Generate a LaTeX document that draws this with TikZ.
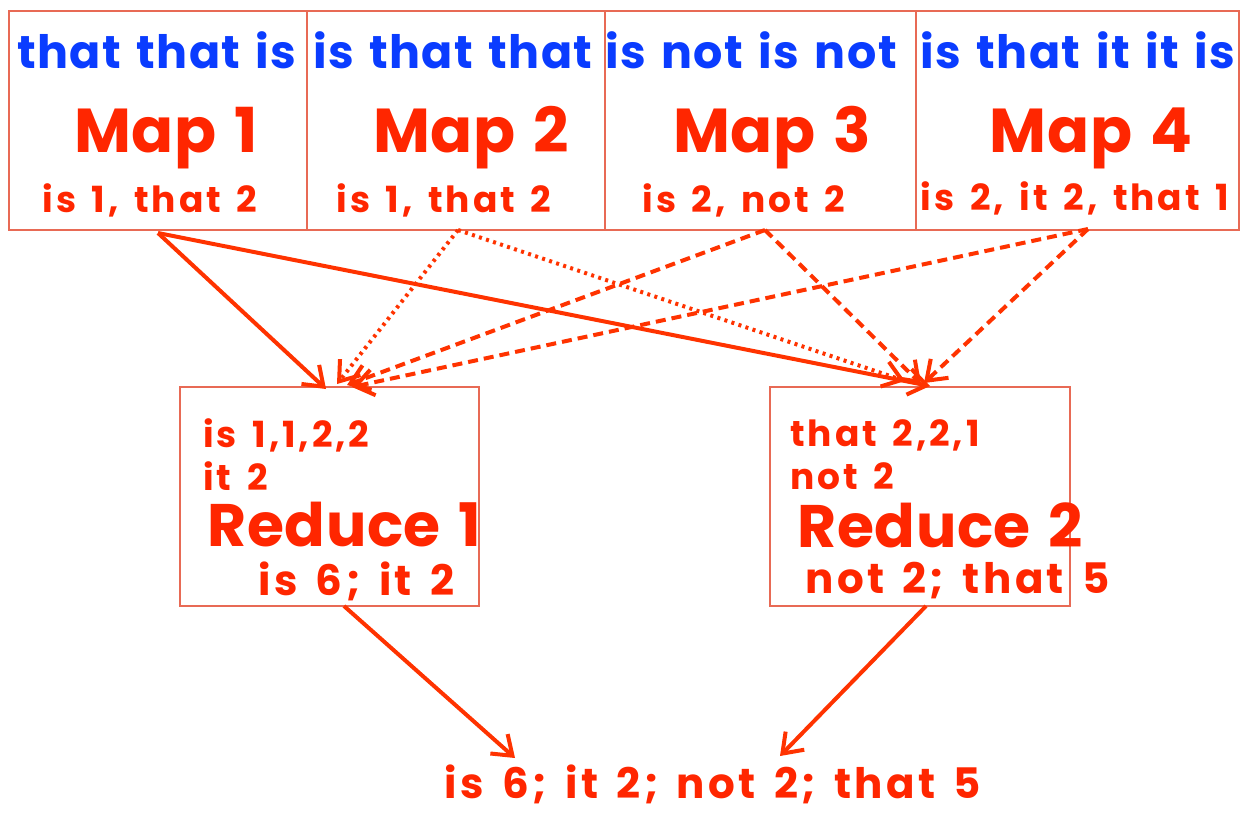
\documentclass[tikz,border=0pt]{standalone}
\usepackage{fontspec}
\setmainfont{Poppins}
\newfontfamily\wordsfont{Poppins}[LetterSpace=3,WordSpace=1.4]
\newfontfamily\countfont{Poppins}[LetterSpace=8,WordSpace=1.5]
\newfontfamily\titlefont{Poppins}[LetterSpace=1,WordSpace=1.3]
\usetikzlibrary{arrows.meta}
\definecolor{tred}{HTML}{FF2600}
\definecolor{lred}{HTML}{FF3300}
\definecolor{bred}{HTML}{E86A55}
\definecolor{tblue}{HTML}{0A3CFF}
\begin{document}
\begin{tikzpicture}[x=0.5pt,y=-0.5pt,
  box/.style={draw=bred,line width=1pt,anchor=north west,inner sep=0pt},
  words/.style={text=tblue,font=\wordsfont\bfseries\fontsize{23}{26}\selectfont,inner sep=0pt},
  maptitle/.style={text=tred,font=\titlefont\bfseries\fontsize{31}{36}\selectfont,inner sep=0pt},
  counts/.style={text=tred,font=\countfont\bfseries\fontsize{18}{21}\selectfont,inner sep=0pt},
  bigcounts/.style={text=tred,font=\countfont\bfseries\fontsize{21}{24}\selectfont,inner sep=0pt},
  redtitle/.style={text=tred,font=\titlefont\bfseries\fontsize{30}{35}\selectfont,inner sep=0pt},
  conn/.style={draw=lred,line width=2pt,-{Straight Barb[length=9pt,width=13pt,line width=2pt]}},
  dottedconn/.style={conn,dash pattern=on 1.5pt off 2.2pt},
  dashedconn/.style={conn,dash pattern=on 5pt off 3pt}]
\useasboundingbox (0,0) rectangle (1240,816);
% map boxes
\node[box,minimum width=149pt,minimum height=109.5pt] (m1) at (8,10) {};
\node[box,minimum width=149pt,minimum height=109.5pt] (m2) at (306,10) {};
\node[box,minimum width=155.5pt,minimum height=109.5pt] (m3) at (604,10) {};
\node[box,minimum width=161.5pt,minimum height=109.5pt] (m4) at (915,10) {};
% map texts
\node[words] (w1) at (157,50) {that that is};
\node[words] (w2) at (453,50) {is that that};
\node[words] (w3) at (751,50) {is not is not};
\node[words] (w4) at (1078,50) {is that it it is};
\node[maptitle] (t1) at (166,138) {Map 1};
\node[maptitle] (t2) at (471,138) {Map 2};
\node[maptitle] (t3) at (772,138) {Map 3};
\node[maptitle] (t4) at (1091,138) {Map 4};
\node[counts] (c1) at (150,200) {is 1, that 2};
\node[counts] (c2) at (444,200) {is 1, that 2};
\node[counts] (c3) at (744,200) {is 2, not 2};
\node[counts] (c4) at (1075,198) {is 2, it 2, that 1};
% reduce boxes
\node[box,minimum width=149.5pt,minimum height=109.5pt] (r1) at (179,386) {};
\node[box,minimum width=150pt,minimum height=109.5pt] (r2) at (769,386) {};
\node[counts,anchor=west] (r1a) at (203,435) {is 1,1,2,2};
\node[counts,anchor=west] (r1b) at (203,476) {it 2};
\node[redtitle,anchor=west] (r1t) at (207,525) {Reduce 1};
\node[bigcounts,anchor=west] (r1c) at (258,581) {is 6; it 2};
\node[counts,anchor=west] (r2a) at (790,435) {that 2,2,1};
\node[counts,anchor=west] (r2b) at (790,476) {not 2};
\node[redtitle,anchor=west] (r2t) at (797,525) {Reduce 2};
\node[bigcounts,anchor=west] (r2c) at (805,581) {not 2; that 5};
% final
\node[bigcounts,anchor=base] (fin) at (713,798) {is 6; it 2; not 2; that 5};
% connector endpoints
\coordinate (s1) at (158,233);
\coordinate (s2) at (458,230);
\coordinate (s3) at (765,230);
\coordinate (s4) at (1088,229);
\coordinate (e1a) at (326,389);
\coordinate (e2a) at (337,384);
\coordinate (e3a) at (347,385);
\coordinate (e4a) at (352,387);
\coordinate (e1b) at (930,386);
\coordinate (e2b) at (905,381);
\coordinate (e3b) at (921,384);
\coordinate (e4b) at (924,383);
\coordinate (b1s) at (344,606);
\coordinate (b1e) at (515,758);
\coordinate (b2s) at (926,606);
\coordinate (b2e) at (780,756);
% connectors
\draw[conn] (s1) -- (e1a);
\draw[conn] (s1) -- (e1b);
\draw[dottedconn] (s2) -- (e2a);
\draw[dottedconn] (s2) -- (e2b);
\draw[dashedconn] (s3) -- (e3a);
\draw[dashedconn] (s3) -- (e3b);
\draw[dashedconn] (s4) -- (e4a);
\draw[dashedconn] (s4) -- (e4b);
\draw[conn] (b1s) -- (b1e);
\draw[conn] (b2s) -- (b2e);
\end{tikzpicture}
\end{document}
